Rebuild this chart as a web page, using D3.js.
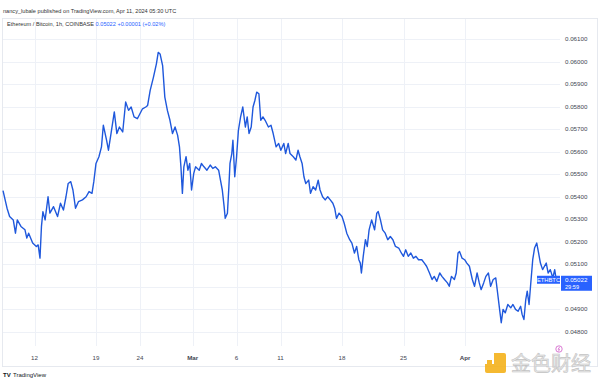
<!DOCTYPE html>
<html><head><meta charset="utf-8">
<script src="https://cdn.jsdelivr.net/npm/d3@7"></script>
<style>
html,body{margin:0;padding:0;background:#fff;}
svg{display:block;font-family:"Liberation Sans",Arial,sans-serif;}
</style></head><body>
<svg id="c" width="600" height="382"></svg>
<script>
// ---- data ----
const baseDate = "2024-02-12T00:00:00Z";
// hours since base
const hours = [-86,-75,-68,-58,-52,-47,-37,-26,-21,-16,-5,5,10,15,19,23,29,37,42,52,63,71,79,86,92,99,105,112,120,131,141,149,157,162,168,176,183,188,197,202,209,218,225,232,241,249,257,264,272,281,288,295,304,309,316,325,333,338,343,350,356,363,370,377,384,391,396,400,404,408,414,419,424,429,435,440,450,456,463,471,480,487,494,503,508,513,518,521,527,531,534,539,542,547,552,557,563,569,576,581,586,592,597,602,607,613,618,624,630,639,646,652,660,667,673,681,686,693,698,707,714,720,725,731,736,741,749,754,761,768,775,780,787,794,801,808,815,820,825,832,840,846,853,861,867,874,880,886,890,893,898,904,909,914,921,929,935,939,945,951,958,965,972,979,986,995,1002,1008,1014,1021,1028,1035,1042,1049,1058,1065,1071,1079,1086,1092,1099,1107,1113,1120,1128,1133,1139,1147,1152,1157,1161,1168,1175,1181,1188,1196,1202,1209,1215,1220,1227,1233,1240,1246,1253,1260,1265,1270,1275,1280,1286,1293,1301,1307,1314,1321,1328,1332,1337,1342,1346,1351,1355,1361,1366,1372,1377,1382,1388,1393,1398,1403,1409,1416,1421,1426];
const prices = [0.05427,0.05349,0.05312,0.05297,0.05238,0.05297,0.05268,0.05253,0.05216,0.05238,0.05194,0.05179,0.05186,0.05127,0.05268,0.05334,0.05297,0.05400,0.05327,0.05356,0.05312,0.05371,0.05341,0.05400,0.05459,0.05467,0.05430,0.05349,0.05378,0.05386,0.05400,0.05423,0.05415,0.05467,0.05548,0.05578,0.05622,0.05718,0.05651,0.05607,0.05681,0.05777,0.05681,0.05710,0.05688,0.05821,0.05784,0.05799,0.05755,0.05747,0.05769,0.05791,0.05799,0.05806,0.05873,0.05932,0.05991,0.06042,0.06035,0.05983,0.05843,0.05784,0.05740,0.05681,0.05710,0.05673,0.05622,0.05533,0.05415,0.05533,0.05578,0.05518,0.05548,0.05430,0.05504,0.05533,0.05518,0.05548,0.05533,0.05518,0.05541,0.05526,0.05533,0.05518,0.05474,0.05430,0.05356,0.05304,0.05327,0.05445,0.05548,0.05592,0.05651,0.05489,0.05578,0.05695,0.05755,0.05799,0.05710,0.05755,0.05681,0.05710,0.05799,0.05828,0.05865,0.05858,0.05740,0.05755,0.05740,0.05710,0.05718,0.05681,0.05622,0.05637,0.05607,0.05637,0.05592,0.05637,0.05592,0.05578,0.05563,0.05607,0.05578,0.05548,0.05489,0.05459,0.05474,0.05415,0.05445,0.05430,0.05474,0.05430,0.05400,0.05386,0.05400,0.05386,0.05371,0.05349,0.05304,0.05327,0.05312,0.05282,0.05238,0.05209,0.05194,0.05150,0.05179,0.05120,0.05105,0.05061,0.05135,0.05209,0.05179,0.05253,0.05297,0.05253,0.05327,0.05334,0.05297,0.05253,0.05238,0.05209,0.05223,0.05209,0.05179,0.05172,0.05150,0.05135,0.05164,0.05135,0.05150,0.05127,0.05135,0.05120,0.05120,0.05105,0.05091,0.05061,0.05032,0.05046,0.05024,0.05061,0.05046,0.05032,0.05017,0.05002,0.05046,0.05032,0.05061,0.05150,0.05157,0.05127,0.05120,0.05105,0.05091,0.05032,0.05002,0.05061,0.05017,0.04987,0.05017,0.05046,0.05061,0.05002,0.05032,0.05039,0.04973,0.04906,0.04840,0.04899,0.04884,0.04921,0.04906,0.04921,0.04899,0.04891,0.04913,0.04877,0.04854,0.04943,0.04980,0.04921,0.05002,0.05120,0.05172,0.05194,0.05150,0.05105,0.05076,0.05091,0.05105,0.05061,0.05076,0.05039,0.05076,0.05022];
const xTickDates = ["2024-02-12","2024-02-19","2024-02-24","2024-03-01","2024-03-06","2024-03-11","2024-03-18","2024-03-25","2024-04-01"];
const xTickLabels = ["12","19","24","Mar","6","11","18","25","Apr"];
const yTicks = [0.061,0.060,0.059,0.058,0.057,0.056,0.055,0.054,0.053,0.052,0.051,0.050,0.049,0.048];
const lastPrice = "0.05022";
const countdown = "29:59";
const symbol = "ETHBTC";
const headerText = "nancy_lubale published on TradingView.com, Apr 11, 2024 05:30 UTC";
const legendTitle = "Ethereum / Bitcoin, 1h, COINBASE";
const legendValues = "0.05022  +0.00001 (+0.02%)";

// ---- drawing ----
const svg = d3.select("#c");
const base = new Date(baseDate).getTime();
const data = hours.map((h,i)=>({t:new Date(base + h*3600e3), v:prices[i]}));

const x = d3.scaleUtc().domain([new Date("2024-02-12T00:00:00Z"), new Date("2024-04-01T00:00:00Z")]).range([34.5, 465]);
const y = d3.scaleLinear().domain([0.048, 0.061]).range([331.7, 39.3]);

const plotR = 560;
const blue = "#2962ff";
const lineBlue = "#1f58dc";

// frame
const fr = (x1,y1,x2,y2)=>svg.append("line").attr("x1",x1).attr("x2",x2).attr("y1",y1).attr("y2",y2).attr("stroke","#e0e3eb").attr("stroke-width",0.8);
fr(2,18.5,598,18.5); fr(2,366.5,598,366.5); fr(2.5,18.5,2.5,366.5); fr(597.5,18.5,597.5,366.5);

// grid
const g = svg.append("g");
g.selectAll(".hg").data(yTicks).join("line")
  .attr("x1",3).attr("x2",plotR).attr("y1",d=>Math.round(y(d))+0.5).attr("y2",d=>Math.round(y(d))+0.5)
  .attr("stroke","#eef1f7").attr("stroke-width",1);
g.selectAll(".vg").data(xTickDates).join("line")
  .attr("x1",d=>Math.round(x(new Date(d+"T00:00:00Z")))+0.5).attr("x2",d=>Math.round(x(new Date(d+"T00:00:00Z")))+0.5)
  .attr("y1",19).attr("y2",346)
  .attr("stroke","#eef1f7").attr("stroke-width",1);

// line
const line = d3.line().x(d=>x(d.t)).y(d=>y(d.v));
svg.append("path").datum(data).attr("d",line).attr("fill","none")
  .attr("stroke",lineBlue).attr("stroke-width",1.4).attr("stroke-linejoin","round");

// y axis labels
const lastY = y(+lastPrice);
svg.selectAll(".yl").data(yTicks.filter(d=>Math.abs(y(d)-lastY)>9)).join("text")
  .attr("x",565).attr("y",d=>y(d)).attr("dy","0.35em")
  .attr("font-size",6.2).attr("fill","#434651").text(d=>d.toFixed(5));

// x axis labels
svg.selectAll(".xl").data(xTickDates).join("text")
  .attr("x",d=>x(new Date(d+"T00:00:00Z"))).attr("y",358).attr("dy","0.35em")
  .attr("text-anchor","middle").attr("font-size",6.2).attr("fill","#434651")
  .attr("font-weight",(d,i)=>isNaN(+xTickLabels[i])?"bold":"normal")
  .text((d,i)=>xTickLabels[i]);

// last price labels
svg.append("rect").attr("x",537).attr("y",lastY-6).attr("width",23).attr("height",8).attr("fill",blue);
svg.append("text").attr("x",548.5).attr("y",lastY-2).attr("dy","0.35em").attr("text-anchor","middle")
  .attr("font-size",5.8).attr("fill","#fff").text(symbol);
svg.append("rect").attr("x",561).attr("y",lastY-6).attr("width",31).attr("height",15).attr("fill",blue);
svg.append("text").attr("x",565).attr("y",lastY-2).attr("dy","0.35em").attr("font-size",6.2).attr("fill","#fff").text(lastPrice);
svg.append("text").attr("x",565).attr("y",lastY+5).attr("dy","0.35em").attr("font-size",5.6).attr("fill","#fff").text(countdown);

// header
svg.append("text").attr("x",3).attr("y",13).attr("font-size",5.6).attr("fill","#333").text(headerText);
const lg = svg.append("text").attr("x",7).attr("y",26).attr("font-size",5.6);
lg.append("tspan").attr("fill","#333").text(legendTitle + "  ");
lg.append("tspan").attr("fill",blue).text(legendValues);

// events icon
svg.append("circle").attr("cx",559).attr("cy",349).attr("r",3.2).attr("fill","#fff").attr("stroke","#d05ac8").attr("stroke-width",0.8);
svg.append("path").attr("d","M559.8,346.8 L558,349.3 L559.6,349.3 L558.4,351.4").attr("fill","none").attr("stroke","#d05ac8").attr("stroke-width",0.7);

// TradingView footer
svg.append("text").attr("x",3).attr("y",377).attr("font-size",6).attr("font-weight","bold").attr("fill","#131722").text("TV");
svg.append("text").attr("x",13).attr("y",377).attr("font-size",6).attr("fill","#131722").text("TradingView");

// watermark
const wm = svg.append("g").attr("opacity",0.9);
wm.append("rect").attr("x",485).attr("y",353).attr("width",21).attr("height",20).attr("rx",2).attr("fill","#f5b21b");
wm.append("rect").attr("x",485).attr("y",353).attr("width",9).attr("height",11).attr("fill","#fff");
wm.append("rect").attr("x",487).attr("y",360).attr("width",5).attr("height",5).attr("fill","#f5b21b");
wm.append("text").attr("x",511).attr("y",371).attr("font-size",20)
  .attr("font-family","'Noto Sans CJK SC',sans-serif").attr("fill","#e6e6e6")
  .attr("stroke","#bdbdbd").attr("stroke-width",0.6).text("金色财经");
</script>
</body></html>
